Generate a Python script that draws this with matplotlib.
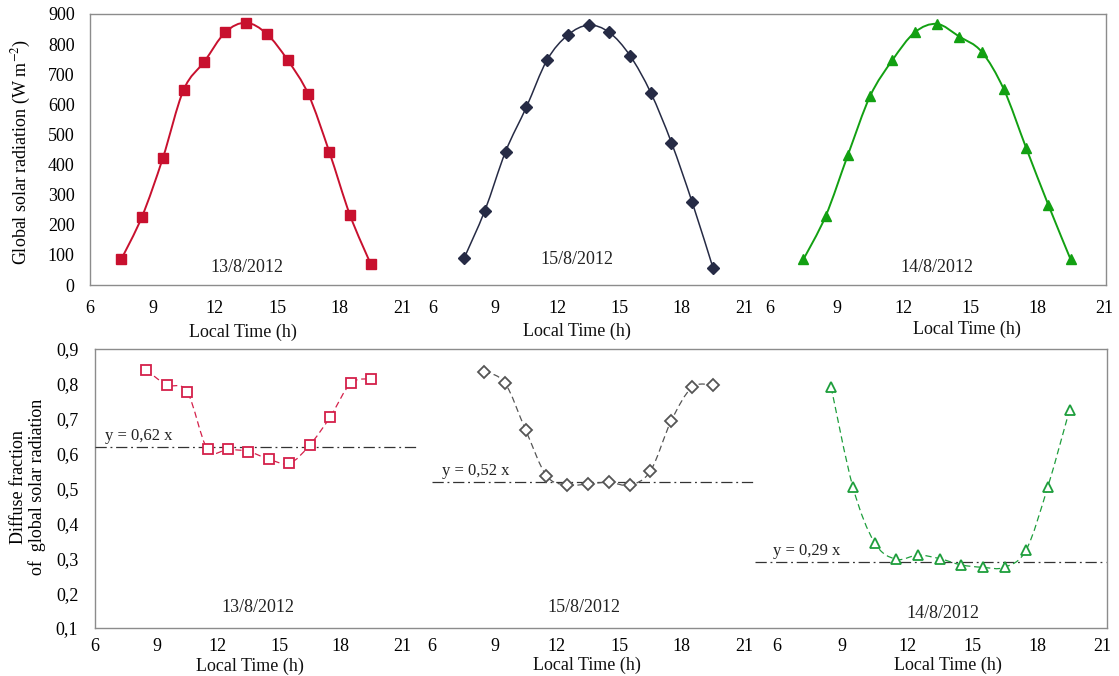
import numpy as np
import matplotlib
matplotlib.use("Agg")
import matplotlib.pyplot as plt
from matplotlib.path import Path
from matplotlib.patches import PathPatch

plt.rcParams['font.family'] = ['Liberation Serif', 'DejaVu Serif']
plt.rcParams['mathtext.fontset'] = 'stix'
plt.rcParams['font.size'] = 13

# ---- data ----
days = ['13/8/2012', '15/8/2012', '14/8/2012']
time_ticks = [6, 9, 12, 15, 18, 21]

hours_global = [7.5, 8.5, 9.5, 10.5, 11.5, 12.5, 13.5, 14.5, 15.5, 16.5, 17.5, 18.5, 19.5]
global_13 = [85, 227, 421, 648, 742, 839, 871, 834, 747, 633, 443, 232, 69]
global_15 = [89, 247, 443, 590, 747, 830, 863, 839, 762, 639, 473, 275, 58]
global_14 = [85, 229, 432, 628, 747, 839, 867, 825, 775, 650, 456, 266, 85]

hours_diffuse = [8.5, 9.5, 10.5, 11.5, 12.5, 13.5, 14.5, 15.5, 16.5, 17.5, 18.5, 19.5]
diffuse_13 = [0.840, 0.797, 0.778, 0.612, 0.612, 0.606, 0.584, 0.572, 0.625, 0.706, 0.802, 0.814]
diffuse_15 = [0.835, 0.803, 0.668, 0.537, 0.510, 0.513, 0.518, 0.510, 0.550, 0.694, 0.790, 0.797]
diffuse_14 = [0.790, 0.505, 0.345, 0.297, 0.309, 0.299, 0.281, 0.274, 0.274, 0.324, 0.505, 0.725]

slopes = [0.62, 0.52, 0.29]

global_ticks = [0, 100, 200, 300, 400, 500, 600, 700, 800, 900]
diffuse_ticks = [0.1, 0.2, 0.3, 0.4, 0.5, 0.6, 0.7, 0.8, 0.9]

# ---- layout helpers ----
W, H = 1119, 676
fig = plt.figure(figsize=(W / 100, H / 100), dpi=100)
fig.patch.set_facecolor('white')


def add_px_axes(left, right, top, bottom):
    return fig.add_axes([left / W, 1 - bottom / H, (right - left) / W, (bottom - top) / H])


def fig_text(x, y, s, **kw):
    fig.text(x / W, 1 - y / H, s, ha='center', va='center', **kw)


def smooth_path(x, y):
    """Catmull-Rom curve through the points, as cubic Bezier segments."""
    pts = np.column_stack([x, y]).astype(float)
    n = len(pts)
    verts = [pts[0]]
    codes = [Path.MOVETO]
    for i in range(n - 1):
        p0 = pts[i - 1] if i > 0 else pts[i]
        p1, p2 = pts[i], pts[i + 1]
        p3 = pts[i + 2] if i + 2 < n else pts[i + 1]
        verts += [p1 + (p2 - p0) / 6, p2 - (p3 - p1) / 6, p2]
        codes += [Path.CURVE4] * 3
    return Path(verts, codes)


def make_frame(left, right, top, bottom, ylim, yticks, ylabels, pad):
    ax = add_px_axes(left, right, top, bottom)
    ax.set_xlim(0, 1)
    ax.set_ylim(*ylim)
    ax.set_xticks([])
    ax.set_yticks(yticks)
    ax.set_yticklabels(ylabels)
    ax.tick_params(axis='y', length=0, pad=pad, labelsize=13)
    for sp in ax.spines.values():
        sp.set_color('#8c8c8c')
        sp.set_linewidth(1.0)
    return ax


def make_segment(left, right, top, bottom, ylim, pad):
    ax = add_px_axes(left, right, top, bottom)
    ax.set_facecolor('none')
    ax.set_xlim(6, 21)
    ax.set_ylim(*ylim)
    ax.set_yticks([])
    ax.set_xticks(time_ticks)
    ax.tick_params(axis='x', length=0, pad=pad, labelsize=13)
    for sp in ax.spines.values():
        sp.set_visible(False)
    return ax


# ---- top panel: global solar radiation ----
top_box = (14, 285)
make_frame(90, 1106, *top_box, (0, 900), global_ticks,
           [str(v) for v in global_ticks], 11)

top_segments = [(90, 402), (433, 744), (770, 1104)]
top_series = [global_13, global_15, global_14]
top_styles = [
    dict(color='#c8102e', marker='s', ms=6.5, lw=1.4),
    dict(color='#262b45', marker='D', ms=6.0, lw=1.1),
    dict(color='#12a012', marker='^', ms=7.5, lw=1.4),
]
top_date_pos = [(247, 268), (577, 259), (937, 267)]
top_xlabel_pos = [(243, 332), (577, 331), (967, 329)]

for (l, r), vals, st, dpos, xpos, day in zip(top_segments, top_series, top_styles,
                                               top_date_pos, top_xlabel_pos, days):
    ax = make_segment(l, r, *top_box, (0, 900), 11)
    ax.add_patch(PathPatch(smooth_path(hours_global, vals), fill=False,
                           edgecolor=st['color'], lw=st['lw'], zorder=2))
    ax.plot(hours_global, vals, ls='none', marker=st['marker'], ms=st['ms'],
            color=st['color'], mec=st['color'], zorder=3, clip_on=False)
    fig_text(*dpos, day, fontsize=13, color='#222222')
    fig_text(*xpos, 'Local Time (h)', fontsize=13, color='#111111')

fig_text(21, 152, r'Global solar radiation (W m$^{-2}$)', rotation=90, fontsize=13)

# ---- bottom panel: diffuse fraction ----
bot_box = (349, 628)
make_frame(95, 1107, *bot_box, (0.1, 0.9), diffuse_ticks,
           [f'{v:.1f}'.replace('.', ',') for v in diffuse_ticks], 12)

bot_segments = [(95, 402), (432, 744), (777, 1102)]
bot_series = [diffuse_13, diffuse_15, diffuse_14]
bot_styles = [
    dict(color='#d4204a', marker='s', ms=6.5),
    dict(color='#555555', marker='D', ms=6.5),
    dict(color='#1e9e3c', marker='^', ms=7.5),
]
ref_spans = [(6, 21.7), (6, 21.6), (5.0, 21.2)]
ref_label_x = [6.5, 6.5, 5.8]
bot_date_pos = [(258, 608), (584, 608), (943, 614)]
bot_xlabel_pos = [(250, 666), (587, 665), (948, 665)]

for (l, r), vals, st, slope, span, lx, dpos, xpos, day in zip(
        bot_segments, bot_series, bot_styles, slopes, ref_spans, ref_label_x,
        bot_date_pos, bot_xlabel_pos, days):
    ax = make_segment(l, r, *bot_box, (0.1, 0.9), 7)
    ax.plot(span, [slope, slope], color='#333333', lw=0.9,
            ls=(0, (9, 3, 1.5, 3)), zorder=1, clip_on=False)
    ax.text(lx, slope + 0.008, f'y = {slope:.2f} x'.replace('.', ','),
            fontsize=12, ha='left', va='bottom', color='#222222')
    ax.add_patch(PathPatch(smooth_path(hours_diffuse, vals), fill=False,
                           edgecolor=st['color'], lw=0.9, ls=(0, (5, 3)), zorder=2))
    ax.plot(hours_diffuse, vals, ls='none', marker=st['marker'], ms=st['ms'],
            mfc='white', mec=st['color'], mew=1.3, zorder=3, clip_on=False)
    fig_text(*dpos, day, fontsize=13, color='#222222')
    fig_text(*xpos, 'Local Time (h)', fontsize=13, color='#111111')

fig_text(28, 487, 'Diffuse fraction\nof  global solar radiation', rotation=90,
         fontsize=13, multialignment='center', linespacing=1.15)

fig.savefig('out.png', dpi=100, facecolor='white')
